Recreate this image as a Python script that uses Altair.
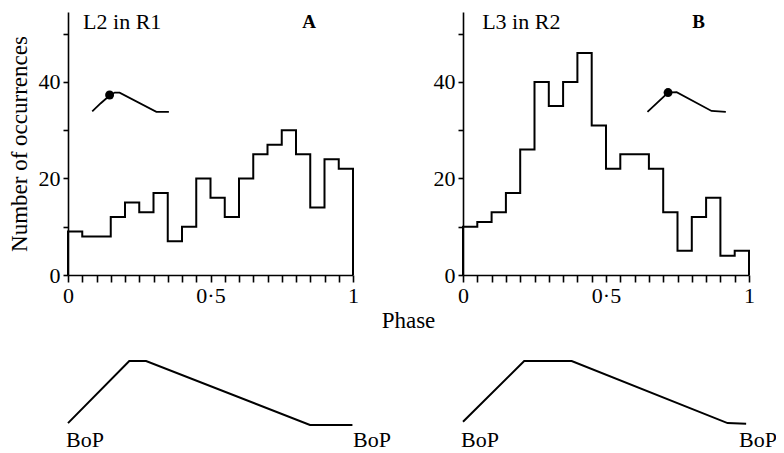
import altair as alt
import pandas as pd

FONT = "Liberation Serif"

# ---- data ----
BIN_START = [0.00, 0.05, 0.10, 0.15, 0.20, 0.25, 0.30, 0.35, 0.40, 0.45,
             0.50, 0.55, 0.60, 0.65, 0.70, 0.75, 0.80, 0.85, 0.90, 0.95]
COUNTS_A = [9, 8, 8, 12, 15, 13, 17, 7, 10, 20, 16, 12, 20, 25, 27, 30, 25, 14, 24, 22]
COUNTS_B = [10, 11, 13, 17, 26, 40, 35, 40, 46, 31, 22, 25, 25, 22, 13, 5, 12, 16, 4, 5]

# small inset waveform drawn inside each histogram (data units)
INSET_A_X = [0.085, 0.115, 0.146, 0.164, 0.181, 0.31, 0.354]
INSET_A_Y = [33.9, 35.6, 37.2, 37.8, 37.8, 33.8, 33.8]
DOT_A_X = [0.146]
DOT_A_Y = [37.3]
INSET_B_X = [0.645, 0.717, 0.747, 0.869, 0.919]
INSET_B_Y = [33.8, 37.8, 37.9, 34.0, 33.8]
DOT_B_X = [0.717]
DOT_B_Y = [37.8]

# waveform under each panel (phase, relative amplitude)
WAVE_A_X = [0.0, 0.215, 0.274, 0.849, 0.998]
WAVE_A_Y = [0.03, 1.0, 1.0, 0.0, 0.0]
WAVE_B_X = [0.0, 0.214, 0.38, 0.925, 0.99]
WAVE_B_Y = [0.05, 1.0, 1.0, 0.03, 0.02]

BOP_START_X = [0.0]
BOP_END_X = [1.0]
BOP_TEXT = ["BoP"]

X_TICKS = [0.0, 0.05, 0.1, 0.15, 0.2, 0.25, 0.3, 0.35, 0.4, 0.45, 0.5,
           0.55, 0.6, 0.65, 0.7, 0.75, 0.8, 0.85, 0.9, 0.95, 1.0]
Y_TICKS = [0, 10, 20, 30, 40, 50]

PANEL_W_A = 285
PANEL_W_B = 286
PANEL_H = 263
WAVE_H = 64


def hist_table(counts):
    xs = [0.0] + BIN_START + [1.0, 1.0]
    ys = [0] + counts + [counts[-1], 0]
    return pd.DataFrame({"x": xs, "y": ys, "o": list(range(len(xs)))})


def panel(counts, inset_x, inset_y, dot_x, dot_y, label, label_x, letter, letter_x,
          width, x_title, y_title, x_title_kw):
    xs = alt.Scale(domain=[0, 1], nice=False, zero=False)
    ys = alt.Scale(domain=[0, 54.5], nice=False)
    x_axis = alt.Axis(
        values=X_TICKS,
        labelExpr="datum.value == 0 ? '0' : datum.value == 0.5 ? '0\u00b75' : datum.value == 1 ? '1' : ''",
        tickSize=7, labelPadding=3, labelFlush=False, labelOverlap=False,
        title=x_title, **x_title_kw)
    y_axis = alt.Axis(
        values=Y_TICKS,
        labelExpr="datum.value % 20 == 0 ? datum.label : ''",
        tickSize=5, labelPadding=3, labelOverlap=False, labelFlush=False,
        title=y_title, titlePadding=7)
    X = alt.X("x:Q", scale=xs, axis=x_axis)
    Y = alt.Y("y:Q", scale=ys, axis=y_axis)

    hist = alt.Chart(hist_table(counts)).mark_line(
        interpolate="step-after", color="black", strokeWidth=2
    ).encode(x=X, y=Y, order="o:Q")

    inset = alt.Chart(pd.DataFrame({"x": inset_x, "y": inset_y})).mark_line(
        color="black", strokeWidth=1.8
    ).encode(x=X, y=Y)

    dot = alt.Chart(pd.DataFrame({"x": dot_x, "y": dot_y})).mark_circle(
        color="black", size=80, opacity=1
    ).encode(x=X, y=Y)

    lab = alt.Chart(pd.DataFrame({"x": [label_x], "y": [51.0], "t": [label]})).mark_text(
        font=FONT, fontSize=22, align="left", baseline="alphabetic", color="black"
    ).encode(x=X, y=Y, text="t:N")

    let = alt.Chart(pd.DataFrame({"x": [letter_x], "y": [51.2], "t": [letter]})).mark_text(
        font=FONT, fontSize=19, fontWeight="bold", align="center", baseline="alphabetic",
        color="black"
    ).encode(x=X, y=Y, text="t:N")

    return alt.layer(hist, inset, dot, lab, let).properties(width=width, height=PANEL_H)


def wave(wx, wy, width, end_dx):
    xs = alt.Scale(domain=[0, 1], nice=False, zero=False)
    ys = alt.Scale(domain=[0, 1], nice=False)
    X = alt.X("x:Q", scale=xs, axis=None)
    line = alt.Chart(pd.DataFrame({"x": wx, "y": wy})).mark_line(
        color="black", strokeWidth=2
    ).encode(x=X, y=alt.Y("y:Q", scale=ys, axis=None))
    bop0 = alt.Chart(pd.DataFrame({"x": BOP_START_X, "t": BOP_TEXT})).mark_text(
        font=FONT, fontSize=22, align="left", baseline="alphabetic", dx=-2, color="black"
    ).encode(x=X, y=alt.datum(-0.34), text="t:N")
    bop1 = alt.Chart(pd.DataFrame({"x": BOP_END_X, "t": BOP_TEXT})).mark_text(
        font=FONT, fontSize=22, align="left", baseline="alphabetic", dx=end_dx, color="black"
    ).encode(x=X, y=alt.datum(-0.34), text="t:N")
    return alt.layer(line, bop0, bop1).properties(width=width, height=WAVE_H)


panel_a = panel(COUNTS_A, INSET_A_X, INSET_A_Y, DOT_A_X, DOT_A_Y, "L2 in R1", 0.053, "A", 0.846,
                PANEL_W_A, "Phase", "Number of occurrences",
                dict(titleX=340, titleY=52, titleBaseline="alphabetic", titleAlign="center"))
panel_b = panel(COUNTS_B, INSET_B_X, INSET_B_Y, DOT_B_X, DOT_B_Y, "L3 in R2", 0.067, "B", 0.824,
                PANEL_W_B, "", "", dict())

chart = alt.concat(
    panel_a, panel_b,
    wave(WAVE_A_X, WAVE_A_Y, PANEL_W_A, 0), wave(WAVE_B_X, WAVE_B_Y, PANEL_W_B, -10),
    columns=2, spacing={"row": 86, "column": 110}, bounds="flush"
).properties(
    padding={"left": 0, "top": 2, "right": -1, "bottom": 0}
).configure_view(stroke=None).configure_axis(
    grid=False, domainColor="black", tickColor="black", labelColor="black",
    titleColor="black", labelFont=FONT, titleFont=FONT, labelFontSize=22,
    titleFontSize=23, titleFontWeight="normal", domainWidth=1.6, tickWidth=1.6
)

chart.save("out.html", embed_options={"renderer": "svg", "actions": False})
